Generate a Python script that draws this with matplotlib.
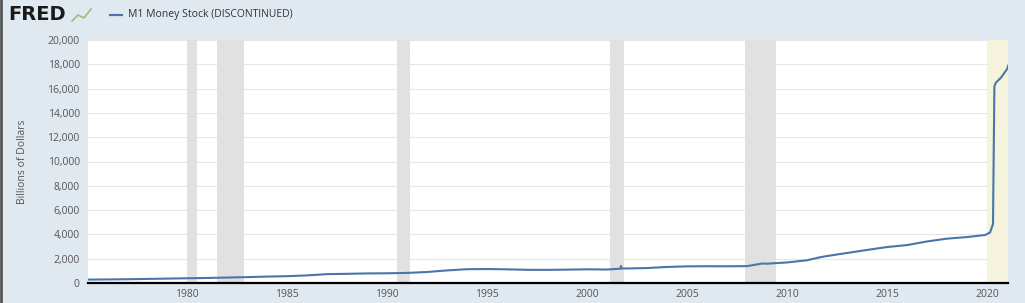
import numpy as np
import matplotlib.pyplot as plt
from matplotlib.lines import Line2D

# M1 money stock, billions of dollars
years = [1975.0, 1976.0, 1977.0, 1978.0, 1979.0, 1980.0, 1981.0, 1982.0, 1983.0, 1984.0,
         1985.0, 1986.0, 1987.0, 1988.0, 1989.0, 1990.0, 1991.0, 1992.0, 1993.0, 1994.0,
         1995.0, 1996.0, 1997.0, 1998.0, 1999.0, 2000.0, 2001.0, 2001.68, 2001.7, 2001.72,
         2002.0, 2003.0, 2004.0, 2005.0, 2006.0, 2007.0, 2008.0, 2008.75, 2009.0, 2010.0,
         2011.0, 2011.6, 2012.0, 2013.0, 2014.0, 2015.0, 2016.0, 2017.0, 2018.0, 2019.0,
         2019.9, 2020.15, 2020.3, 2020.37, 2020.45, 2020.7, 2021.0, 2021.12]
m1 = [280, 292, 310, 335, 362, 390, 415, 448, 482, 528,
      560, 625, 730, 755, 788, 800, 830, 905, 1035, 1135,
      1150, 1125, 1085, 1080, 1100, 1125, 1110, 1180, 1400, 1200,
      1195, 1230, 1320, 1370, 1380, 1375, 1390, 1600, 1590, 1690,
      1870, 2100, 2220, 2470, 2720, 2960, 3120, 3420, 3650, 3780,
      3950, 4150, 4850, 16200, 16500, 16900, 17600, 18150]

recessions = [(1980.0, 1980.5), (1981.5, 1982.87), (1990.5, 1991.17), (2001.17, 2001.87),
              (2007.92, 2009.45)]
covid = (2020.0, 2021.2)

y_ticks = np.arange(0, 20001, 2000)
x_ticks = [1980, 1985, 1990, 1995, 2000, 2005, 2010, 2015, 2020]

bg = '#e1e9f0'
fig = plt.figure(figsize=(10.25, 3.03), dpi=100, facecolor=bg)
ax = fig.add_axes([88/1025, 20/303, 920/1025, 243/303])
ax.set_facecolor('white')

for a, b in recessions:
    ax.axvspan(a, b, color='#e1e1e1', lw=0, zorder=1)
ax.axvspan(covid[0], covid[1], color='#f5f3dc', lw=0, zorder=1)

ax.plot(years, m1, color='#4a75ab', lw=1.5, zorder=3)

ax.set_xlim(1975.05, 2021.05)
ax.set_ylim(0, 20000)
ax.set_yticks(y_ticks)
ax.set_yticklabels([f'{v:,}' for v in y_ticks])
ax.set_xticks(x_ticks)
ax.set_xticklabels([str(x) for x in x_ticks])
ax.grid(axis='y', color='#e6e6e6', lw=0.8, zorder=0)
ax.set_axisbelow(True)
ax.tick_params(length=0, labelsize=7.5, labelcolor='#555555', pad=6, labelfontfamily='Open Sans')
ax.tick_params(axis='x', pad=4)
for s in ['top', 'right', 'left']:
    ax.spines[s].set_visible(False)
ax.spines['bottom'].set_color('black')
ax.spines['bottom'].set_linewidth(1.6)
ax.spines['bottom'].set_zorder(4)

ax.set_ylabel('Billions of Dollars', fontsize=7.5, color='#555555', family='Open Sans', labelpad=14)

# header: FRED logo and legend
fig.text(8/1025, 1 - 15/303, 'FRED', fontsize=14, fontweight='heavy', color='#1a1a1a',
         va='center', ha='left', family='DejaVu Sans')
fig.add_artist(Line2D([72/1025, 78/1025, 84/1025, 91/1025],
                      [1 - 21/303, 1 - 15/303, 1 - 18/303, 1 - 9/303],
                      color='#9dbf7a', lw=1.2))
fig.add_artist(Line2D([110/1025, 122/1025], [1 - 15/303, 1 - 15/303], color='#4a75ab', lw=1.6))
fig.text(128/1025, 1 - 15/303, 'M1 Money Stock (DISCONTINUED)', fontsize=7.5, color='#333333',
         va='center', ha='left', family='Open Sans')

# left border
fig.add_artist(Line2D([1/1025, 1/1025], [0, 1], color='#555555', lw=2))

fig.savefig('out.png', dpi=100, facecolor=bg)
